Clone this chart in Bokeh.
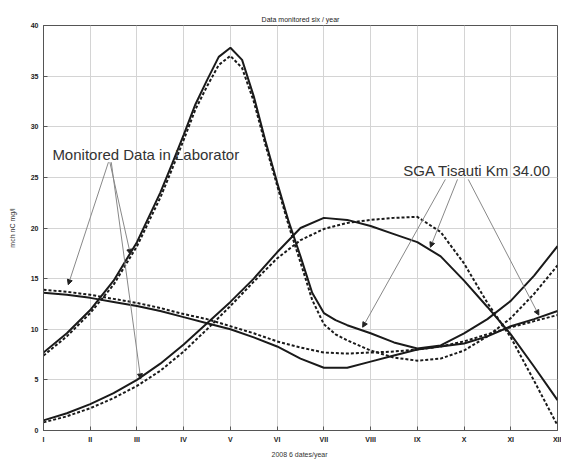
from bokeh.plotting import figure
from bokeh.models import FixedTicker, Label, Arrow, NormalHead, Range1d
from bokeh.embed import file_html
from bokeh.resources import INLINE

months = [1, 1.5, 2, 2.5, 3, 3.5, 4, 4.5, 5, 5.5, 6, 6.5, 7, 7.5, 8, 8.5, 9, 9.5, 10, 10.5, 11, 11.5, 12]
month_labels = ["I", "II", "III", "IV", "V", "VI", "VII", "VIII", "IX", "X", "XI", "XII"]

peak_months = [1, 1.5, 2, 2.5, 3, 3.5, 3.75, 4, 4.25, 4.5, 4.75, 5, 5.25, 5.5, 5.75, 6, 6.25, 6.5, 6.75,
               7, 7.25, 7.5, 8, 8.5, 9, 9.5, 10, 10.5, 11, 11.5, 12]
peak_lab = [7.7, 9.6, 11.9, 14.8, 18.6, 23.5, 26.3, 29.2, 32.2, 34.6, 36.9, 37.8, 36.6, 33.0, 28.6, 24.5, 20.6, 17.2, 13.6,
            11.6, 10.9, 10.4, 9.6, 8.7, 8.1, 8.4, 9.6, 11.0, 12.8, 15.3, 18.2]
peak_sga = [7.4, 9.3, 11.6, 14.4, 18.2, 23.0, 25.8, 28.7, 31.7, 34.0, 36.1, 37.0, 35.8, 32.5, 28.2, 24.2, 20.2, 16.6, 12.9,
            10.5, 9.5, 8.9, 7.9, 7.2, 6.9, 7.1, 7.9, 9.3, 11.1, 13.5, 16.3]
decr_lab = [13.6, 13.4, 13.1, 12.7, 12.3, 11.8, 11.2, 10.6, 10.0, 9.2, 8.3, 7.1, 6.2, 6.2, 6.8, 7.4, 8.0, 8.3, 8.6, 9.3, 10.3, 11.0, 11.8]
decr_sga = [13.9, 13.7, 13.4, 13.0, 12.6, 12.1, 11.5, 11.0, 10.3, 9.6, 8.8, 8.2, 7.7, 7.6, 7.7, 7.8, 8.0, 8.3, 8.8, 9.5, 10.2, 10.8, 11.4]
rise_lab = [1.0, 1.7, 2.6, 3.7, 5.0, 6.6, 8.5, 10.6, 12.7, 15.0, 17.6, 20.0, 21.0, 20.8, 20.2, 19.4, 18.6, 17.2, 14.8, 12.2, 9.5, 6.3, 3.0]
rise_sga = [0.8, 1.4, 2.2, 3.2, 4.4, 5.9, 7.8, 10.0, 12.3, 14.7, 17.0, 18.8, 19.9, 20.5, 20.8, 21.0, 21.1, 19.6, 16.5, 12.6, 9.2, 4.9, 0.5]

p = figure(width=561, height=463, output_backend="svg", toolbar_location=None,
           x_range=Range1d(1, 12), y_range=Range1d(0, 40),
           min_border_left=43, min_border_right=4, min_border_top=25, min_border_bottom=33)
p.title.text = "Data monitored six / year"
p.title.align = "center"
p.title.text_font = "Liberation Sans"
p.title.text_font_size = "7px"
p.title.text_font_style = "normal"
p.title.standoff = 6
p.title.text_color = "#222222"

p.xaxis.ticker = FixedTicker(ticks=list(range(1, 13)))
p.xaxis.major_label_overrides = {i + 1: lab for i, lab in enumerate(month_labels)}
p.yaxis.ticker = FixedTicker(ticks=list(range(0, 41, 5)))
for ax in (p.xaxis[0], p.yaxis[0]):
    ax.major_tick_in = 4
    ax.major_tick_out = 0
    ax.minor_tick_line_color = None
    ax.major_label_text_font = "Liberation Sans"
    ax.major_label_text_font_size = "7px"
    ax.major_label_text_font_style = "bold"
    ax.major_label_text_color = "#222222"
    ax.axis_label_text_font = "Liberation Sans"
    ax.axis_label_text_font_size = "7px"
    ax.axis_label_text_font_style = "normal"
    ax.axis_label_text_color = "#333333"
    ax.axis_line_color = "#555555"
    ax.major_tick_line_color = "#555555"
    ax.major_label_standoff = 5
    ax.axis_label_standoff = 5
p.xaxis.axis_label = "2008  6 dates/year"
p.yaxis.axis_label = "mch nC mg/l"
p.yaxis.axis_label_standoff = 12

p.grid.grid_line_color = "#d4d4d4"
p.grid.grid_line_width = 1
p.outline_line_color = "#555555"
p.background_fill_color = "white"

solid = dict(line_color="#1a1a1a", line_width=2)
dashed = dict(line_color="#1a1a1a", line_width=2, line_dash="3 2")
p.line(peak_months, peak_lab, **solid)
p.line(peak_months, peak_sga, **dashed)
p.line(months, decr_lab, **solid)
p.line(months, decr_sga, **dashed)
p.line(months, rise_lab, **solid)
p.line(months, rise_sga, **dashed)

p.add_layout(Label(x=1.19, y=27.3, text="Monitored Data in Laborator", text_font="Liberation Sans",
                   text_font_size="15px", text_color="#333333", text_baseline="middle"))
p.add_layout(Label(x=8.7, y=25.7, text="SGA Tisauti Km 34.00", text_font="Liberation Sans",
                   text_font_size="15px", text_color="#333333", text_baseline="middle"))

arrows = [
    (2.39, 26.5, 1.53, 14.4), (2.42, 26.5, 2.86, 17.4), (2.45, 26.5, 3.08, 5.1),
    (9.6, 24.8, 7.83, 10.2), (9.86, 24.8, 9.28, 18.1), (10.09, 24.8, 11.6, 11.4),
]
for xs, ys, xe, ye in arrows:
    p.add_layout(Arrow(x_start=xs, y_start=ys, x_end=xe, y_end=ye, line_color="#888888", line_width=1,
                       end=NormalHead(size=5, fill_color="#222222", line_color="#222222")))

open("out.html", "w").write(file_html(p, INLINE))
